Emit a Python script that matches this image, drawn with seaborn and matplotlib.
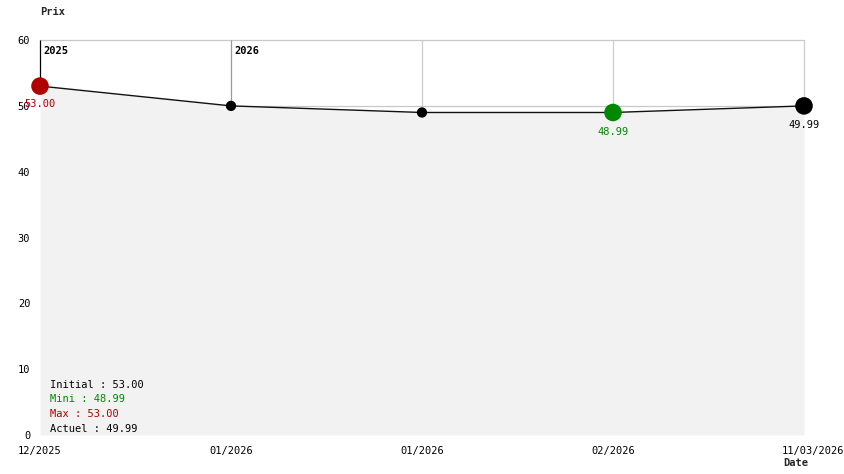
import matplotlib
matplotlib.use("Agg")
import matplotlib.pyplot as plt
import matplotlib.transforms as mtransforms
import seaborn as sns
import pandas as pd

# Data
dates = ["12/2025", "01/2026", "01/2026", "02/2026", "11/03/2026"]
prices = [53.00, 49.99, 48.99, 48.99, 49.99]
year_marks = {0: "2025", 1: "2026"}
y_ticks = [0, 10, 20, 30, 40, 50, 60]
legend_lines = [("Initial : 53.00", "#000000"), ("Mini : 48.99", "#008800"),
                ("Max : 53.00", "#b00000"), ("Actuel : 49.99", "#000000")]

RED = "#b00000"
GREEN = "#008800"
FONT = "DejaVu Sans Mono"
FS = 7.5

sns.set_theme(style="white")
plt.rcParams["font.family"] = [FONT]

df = pd.DataFrame({"idx": list(range(len(prices))), "price": prices})

fig = plt.figure(figsize=(8.44, 4.74), dpi=100)
ax = fig.add_axes([40 / 844, 39 / 474, 764 / 844, 395 / 474])
ax.set_xlim(0, len(prices) - 1)
ax.set_ylim(0, 60)

# grid lines (under fill; only those above the lowest price show)
for yv in y_ticks[1:]:
    if yv > min(prices):
        ax.axhline(yv, color="#c8c8c8", lw=0.9, zorder=0, clip_on=False)
for i in range(len(prices)):
    col = "#000000" if i == 0 else ("#999999" if i in year_marks else "#cccccc")
    ax.vlines(i, prices[i], 60, color=col, lw=0.9, zorder=0, clip_on=False)

ax.fill_between(df["idx"], df["price"], 0, color="#f2f2f2", zorder=1, lw=0)
sns.lineplot(data=df, x="idx", y="price", ax=ax, color="#111111", lw=1.0, zorder=3)

# markers
imin = 3
imax = 0
icur = len(prices) - 1
small = [i for i in range(len(prices)) if i not in (imin, imax, icur)]
sns.scatterplot(x=small, y=[prices[i] for i in small], ax=ax,
                color="black", s=55, edgecolor="none", zorder=4)
sns.scatterplot(x=[imax], y=[prices[imax]], ax=ax, color=RED, s=160, edgecolor="none", zorder=4)
sns.scatterplot(x=[imin], y=[prices[imin]], ax=ax, color=GREEN, s=160, edgecolor="none", zorder=4)
sns.scatterplot(x=[icur], y=[prices[icur]], ax=ax, color="black", s=160, edgecolor="none", zorder=4)
for coll in ax.collections:
    coll.set_clip_on(False)

# value annotations
ax.annotate(f"{prices[imax]:.2f}", (imax, prices[imax]), xytext=(0, -13), textcoords="offset points",
            ha="center", va="center", color=RED, fontsize=FS, zorder=5)
ax.annotate(f"{prices[imin]:.2f}", (imin, prices[imin]), xytext=(0, -14), textcoords="offset points",
            ha="center", va="center", color=GREEN, fontsize=FS, zorder=5)
ax.annotate(f"{prices[icur]:.2f}", (icur, prices[icur]), xytext=(0, -14), textcoords="offset points",
            ha="center", va="center", color="black", fontsize=FS, zorder=5)

# year labels
for i, yr in year_marks.items():
    ax.annotate(yr, (i, 60), xytext=(2.5, -8), textcoords="offset points", ha="left", va="center",
                fontsize=FS, fontweight="bold", color="black", zorder=5)

# legend text
for k, (txt, c) in enumerate(legend_lines):
    ax.text(10 / 764, (435 - 385 - k * 14.5) / 395, txt, transform=ax.transAxes, ha="left",
            va="center", fontsize=FS, color=c, zorder=5)

# axes
ax.set_xticks(range(len(dates)))
ax.set_xticklabels(dates, fontsize=FS, color="black")
ax.set_yticks(y_ticks)
ax.set_yticklabels([str(v) for v in y_ticks], fontsize=FS, color="black")
ax.tick_params(axis="both", length=0)
ax.tick_params(axis="x", pad=8)
ax.tick_params(axis="y", pad=7)
last = ax.get_xticklabels()[-1]
last.set_ha("right")
last.set_transform(last.get_transform() + mtransforms.ScaledTranslation(40 / 100, 0, fig.dpi_scale_trans))
for sp in ax.spines.values():
    sp.set_visible(False)
ax.set_xlabel("")
ax.set_ylabel("")

fig.text(40 / 844, 1 - 12 / 474, "Prix", ha="left", va="center", fontsize=FS, fontweight="bold")
fig.text(783 / 844, 1 - 463 / 474, "Date", ha="left", va="center", fontsize=FS, fontweight="bold")

fig.savefig("out.png", dpi=100, facecolor="white")
